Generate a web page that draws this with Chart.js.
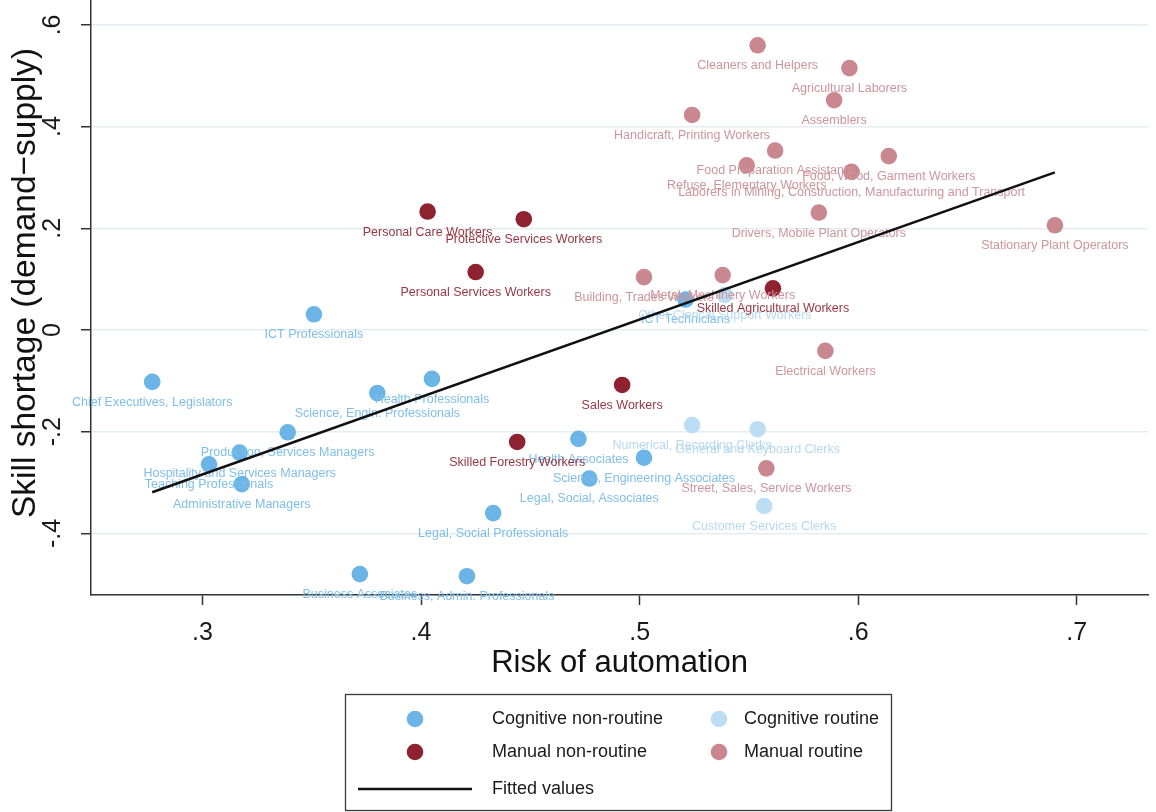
<!DOCTYPE html>
<html>
<head>
<meta charset="utf-8">
<script src="https://cdn.jsdelivr.net/npm/chart.js@4.4.1/dist/chart.umd.min.js"></script>
<style>
  html, body { margin: 0; padding: 0; background: #ffffff; }
  #wrap { width: 1156px; height: 812px; position: relative; }
</style>
</head>
<body>
<div id="wrap"><canvas id="chart" width="1156" height="812"></canvas></div>
<script>
// ---- Occupations: risk of automation (x) vs skill shortage, demand minus supply (y) ----

// Cognitive non-routine occupations
const cogNonRoutineNames = [
  'Chief Executives, Legislators', 'ICT Professionals', 'Health Professionals',
  'Science, Engin. Professionals', 'Production, Services Managers',
  'Hospitality and Services Managers', 'Teaching Professionals', 'Administrative Managers',
  'Business Associates', 'Business, Admin. Professionals', 'Legal, Social Professionals',
  'Health Associates', 'Science, Engineering Associates', 'Legal, Social, Associates',
  'ICT Technicians'
];
const cogNonRoutineRisk = [0.277, 0.351, 0.405, 0.380, 0.339, 0.317, 0.303, 0.318,
  0.372, 0.421, 0.433, 0.472, 0.502, 0.477, 0.521];
const cogNonRoutineShortage = [-0.102, 0.031, -0.096, -0.124, -0.201, -0.241, -0.264, -0.303,
  -0.480, -0.484, -0.360, -0.214, -0.251, -0.292, 0.060];

// Cognitive routine occupations
const cogRoutineNames = [
  'Numerical, Recording Clerks', 'General and Keyboard Clerks',
  'Customer Services Clerks', 'Other Clerical Support Workers'
];
const cogRoutineRisk = [0.524, 0.554, 0.557, 0.539];
const cogRoutineShortage = [-0.187, -0.195, -0.346, 0.069];

// Manual non-routine occupations
const manNonRoutineNames = [
  'Personal Care Workers', 'Protective Services Workers', 'Personal Services Workers',
  'Skilled Agricultural Workers', 'Sales Workers', 'Skilled Forestry Workers'
];
const manNonRoutineRisk = [0.403, 0.447, 0.425, 0.561, 0.492, 0.444];
const manNonRoutineShortage = [0.233, 0.218, 0.114, 0.082, -0.108, -0.220];

// Manual routine occupations
const manRoutineNames = [
  'Cleaners and Helpers', 'Agricultural Laborers', 'Assemblers',
  'Handicraft, Printing Workers', 'Food Preparation Assistants',
  'Refuse, Elementary Workers', 'Food, Wood, Garment Workers',
  'Laborers in Mining, Construction, Manufacturing and Transport',
  'Drivers, Mobile Plant Operators', 'Stationary Plant Operators',
  'Building, Trades Workers', 'Metal, Machinery Workers',
  'Electrical Workers', 'Street, Sales, Service Workers'
];
const manRoutineRisk = [0.554, 0.596, 0.589, 0.524, 0.562, 0.549, 0.614, 0.597,
  0.582, 0.690, 0.502, 0.538, 0.585, 0.558];
const manRoutineShortage = [0.560, 0.515, 0.452, 0.423, 0.353, 0.324, 0.342, 0.311,
  0.231, 0.206, 0.104, 0.108, -0.041, -0.272];

// Fitted values (linear fit end points)
const fittedRisk = [0.277, 0.690];
const fittedShortage = [-0.319, 0.310];

// Axis ticks
const xTickValues = [0.3, 0.4, 0.5, 0.6, 0.7];
const xTickLabels = ['.3', '.4', '.5', '.6', '.7'];
const yTickValues = [-0.4, -0.2, 0, 0.2, 0.4, 0.6];
const yTickLabels = ['-.4', '-.2', '0', '.2', '.4', '.6'];
const yTitle = 'Skill shortage (demand\u2212supply)';

const FONT = '"Liberation Sans", Arial, Helvetica, sans-serif';

function toPoints(xs, ys) { return xs.map((x, i) => ({ x: x, y: ys[i] })); }

function scatterSet(label, names, xs, ys, color, labelColor, order) {
  return {
    type: 'scatter', label: label, names: names, labelColor: labelColor,
    data: toPoints(xs, ys), order: order,
    backgroundColor: color, borderWidth: 0, pointRadius: 8.3, pointHoverRadius: 8.3
  };
}

const datasets = [
  scatterSet('Cognitive non-routine', cogNonRoutineNames, cogNonRoutineRisk, cogNonRoutineShortage, '#6AB4E6', '#7EBEEA', 4),
  scatterSet('Cognitive routine', cogRoutineNames, cogRoutineRisk, cogRoutineShortage, '#BCDDF3', '#B6D8EF', 3),
  scatterSet('Manual non-routine', manNonRoutineNames, manNonRoutineRisk, manNonRoutineShortage, '#8E2230', '#983843', 2),
  scatterSet('Manual routine', manRoutineNames, manRoutineRisk, manRoutineShortage, '#C9878F', '#CE959C', 1),
  {
    type: 'line', label: 'Fitted values', data: toPoints(fittedRisk, fittedShortage), order: 0,
    borderColor: '#111111', borderWidth: 2.5, pointRadius: 0, fill: false, tension: 0
  }
];

// Marker labels, centred under each point, drawn with their own group
const pointLabels = {
  id: 'pointLabels',
  afterDatasetDraw(chart, args) {
    const ds = chart.data.datasets[args.index];
    if (!ds.names) return;
    const ctx = chart.ctx;
    ctx.save();
    ctx.font = '12.5px ' + FONT;
    ctx.fillStyle = ds.labelColor;
    ctx.textAlign = 'center';
    ctx.textBaseline = 'middle';
    args.meta.data.forEach((el, i) => ctx.fillText(ds.names[i], el.x, el.y + 20.5));
    ctx.restore();
  }
};

// Vertical tick labels and title on the y axis
const verticalYText = {
  id: 'verticalYText',
  afterDraw(chart) {
    const sc = chart.scales.y;
    const ctx = chart.ctx;
    ctx.save();
    ctx.fillStyle = '#1a1a1a';
    ctx.textAlign = 'center';
    ctx.textBaseline = 'middle';
    ctx.font = '25px ' + FONT;
    yTickValues.forEach((v, i) => {
      ctx.save();
      ctx.translate(sc.right - 38, sc.getPixelForValue(v));
      ctx.rotate(-Math.PI / 2);
      ctx.fillText(yTickLabels[i], 0, 0);
      ctx.restore();
    });
    ctx.fillStyle = '#111111';
    ctx.font = '33.5px ' + FONT;
    ctx.translate(sc.left + 26, 283);
    ctx.rotate(-Math.PI / 2);
    ctx.fillText(yTitle, 0, 0);
    ctx.restore();
  }
};

// Boxed two-column legend below the plot
const boxLegend = {
  id: 'boxLegend',
  afterDraw(chart) {
    const ctx = chart.ctx;
    const ds = chart.data.datasets;
    ctx.save();
    ctx.strokeStyle = '#3a3a3a';
    ctx.lineWidth = 1.3;
    ctx.strokeRect(345.5, 694.5, 546, 116);
    ctx.font = '18px ' + FONT;
    ctx.textBaseline = 'middle';
    ctx.textAlign = 'left';
    const cells = [
      { i: 0, cx: 415, tx: 492, y: 719 },
      { i: 1, cx: 719, tx: 744, y: 719 },
      { i: 2, cx: 415, tx: 492, y: 752 },
      { i: 3, cx: 719, tx: 744, y: 752 }
    ];
    cells.forEach(c => {
      ctx.beginPath();
      ctx.fillStyle = ds[c.i].backgroundColor;
      ctx.arc(c.cx, c.y, 8.3, 0, Math.PI * 2);
      ctx.fill();
      ctx.fillStyle = '#1a1a1a';
      ctx.fillText(ds[c.i].label, c.tx, c.y);
    });
    ctx.beginPath();
    ctx.strokeStyle = ds[4].borderColor;
    ctx.lineWidth = ds[4].borderWidth;
    ctx.moveTo(358, 789);
    ctx.lineTo(472, 789);
    ctx.stroke();
    ctx.fillStyle = '#1a1a1a';
    ctx.fillText(ds[4].label, 492, 789);
    ctx.restore();
  }
};

new Chart(document.getElementById('chart'), {
  data: { datasets: datasets },
  plugins: [pointLabels, verticalYText, boxLegend],
  options: {
    responsive: false,
    animation: false,
    devicePixelRatio: 1,
    layout: { autoPadding: false, padding: { left: 0, top: 0, right: 8, bottom: 126 } },
    plugins: { legend: { display: false }, tooltip: { enabled: false } },
    scales: {
      x: {
        type: 'linear', position: 'bottom', min: 0.249, max: 0.7326,
        afterBuildTicks(s) { s.ticks = xTickValues.map(v => ({ value: v })); },
        afterFit(s) { s.height = 91; },
        ticks: {
          font: { size: 25, family: FONT }, color: '#1a1a1a', padding: 13,
          maxRotation: 0, minRotation: 0,
          callback: (v, i) => xTickLabels[i]
        },
        grid: { drawOnChartArea: false, drawTicks: true, tickLength: 10, tickColor: '#333333', tickWidth: 1.5 },
        border: { display: true, color: '#333333', width: 1.5 },
        title: {
          display: true, text: 'Risk of automation', color: '#111111',
          font: { size: 31, family: FONT }, padding: { top: 0, bottom: 4 }
        }
      },
      y: {
        type: 'linear', position: 'left', min: -0.521, max: 0.649,
        afterBuildTicks(s) { s.ticks = yTickValues.map(v => ({ value: v })); },
        afterFit(s) { s.width = 91; },
        ticks: { display: false },
        grid: {
          drawOnChartArea: true, color: '#E6EDF1', lineWidth: 1.5,
          drawTicks: true, tickLength: 10, tickColor: '#333333', tickWidth: 1.5
        },
        border: { display: true, color: '#333333', width: 1.5 }
      }
    }
  }
});
</script>
</body>
</html>
